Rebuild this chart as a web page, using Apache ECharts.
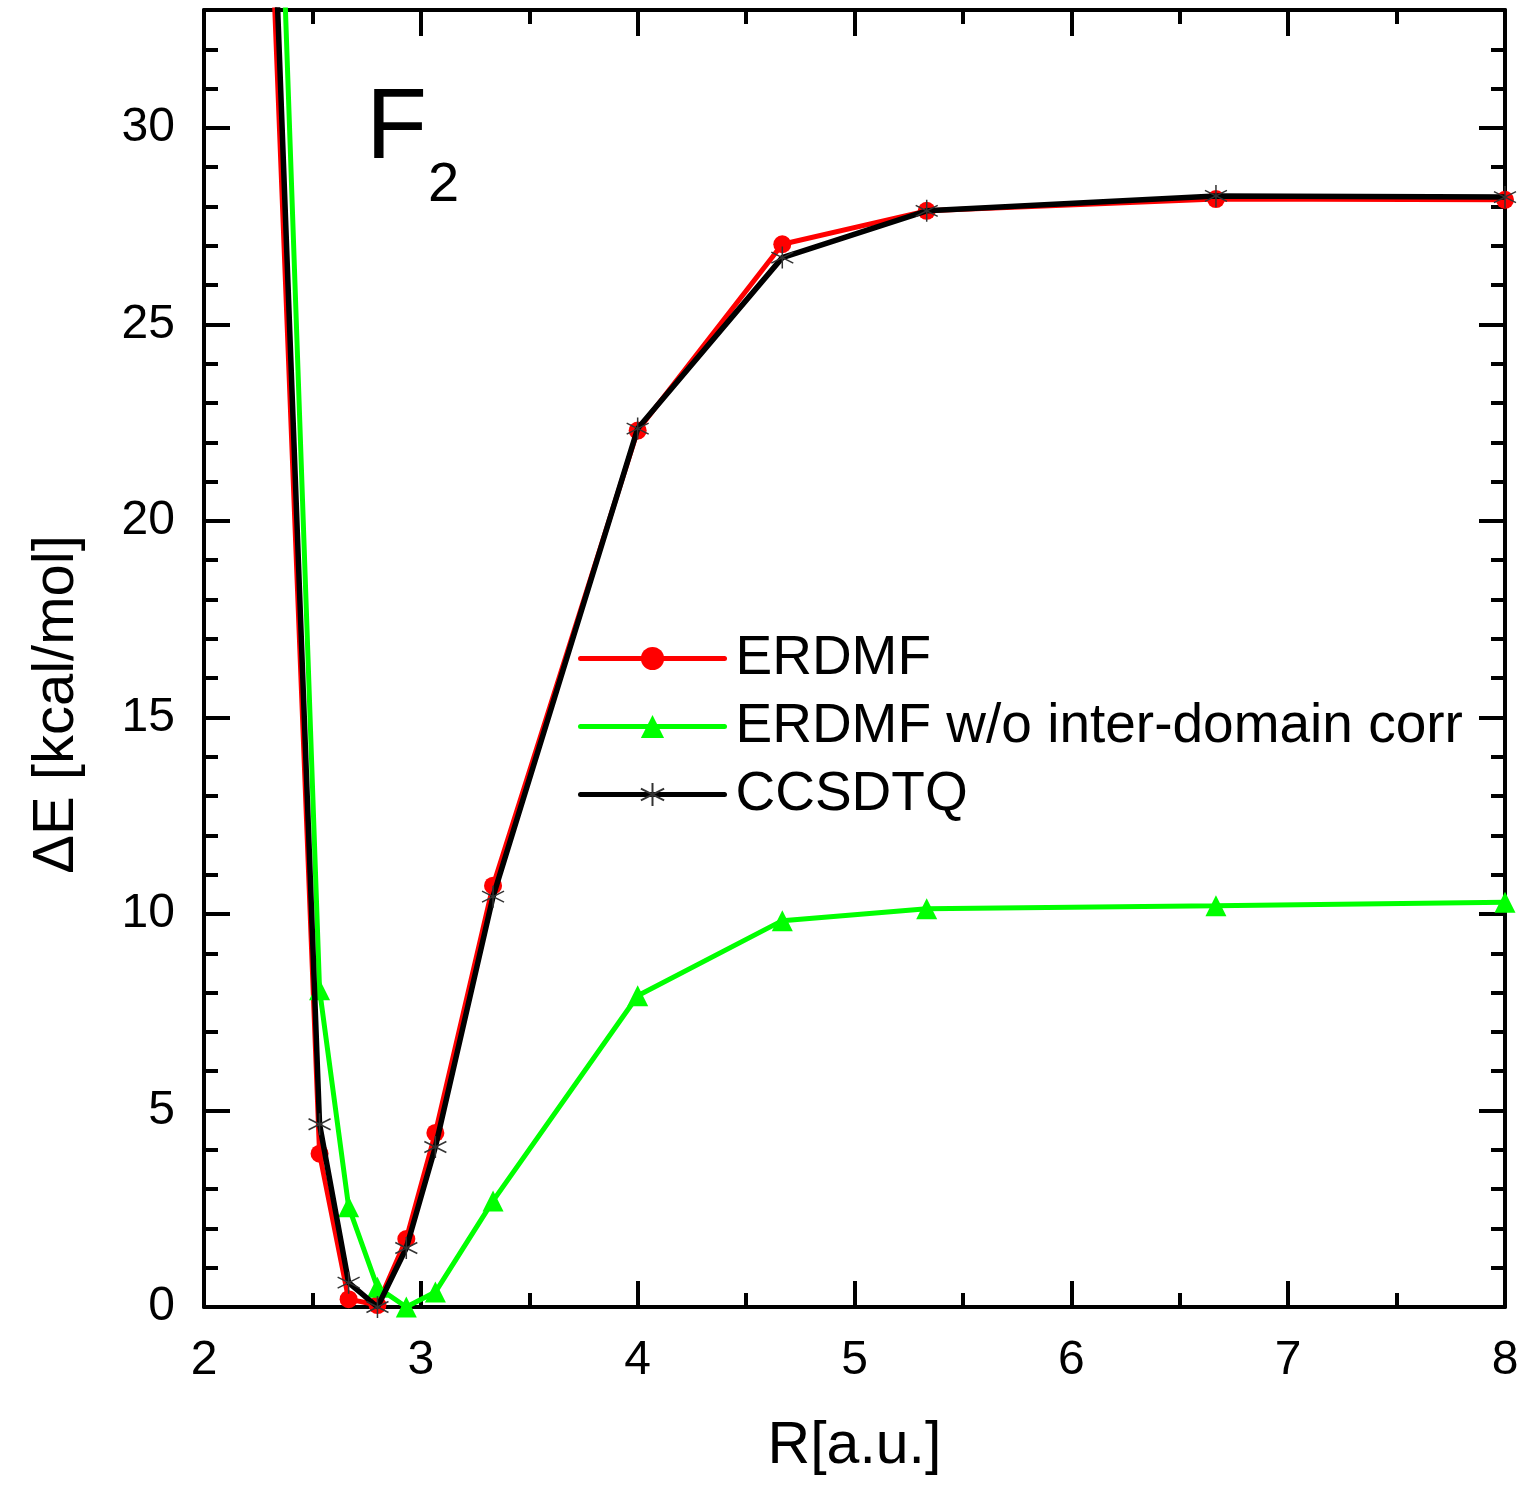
<!DOCTYPE html>
<html>
<head>
<meta charset="utf-8">
<script src="https://cdn.jsdelivr.net/npm/echarts@6/dist/echarts.min.js"></script>
<style>
  html, body { margin: 0; padding: 0; background: #fff; }
  #chart { width: 1526px; height: 1490px; }
</style>
</head>
<body>
<div id="chart"></div>
<script>
// Internuclear distance R in atomic units
const R = [2.267, 2.533, 2.667, 2.8, 2.933, 3.067, 3.333, 4.0, 4.667, 5.333, 6.667, 8.0];

// Relative energies in kcal/mol
const erdmf = [41.4, 3.9, 0.2, 0.05, 1.73, 4.43, 10.72, 22.3, 27.04, 27.89, 28.19, 28.17];
const erdmfNoInter = [50.2, 8.07, 2.55, 0.5, 0.0, 0.38, 2.7, 7.92, 9.83, 10.13, 10.21, 10.3];
const ccsdtq = [43.7, 4.65, 0.62, 0.0, 1.5, 4.07, 10.44, 22.35, 26.7, 27.89, 28.27, 28.24];

const seriesNames = ['ERDMF', 'ERDMF w/o inter-domain corr', 'CCSDTQ'];

const xTicks = [2, 3, 4, 5, 6, 7, 8];
const yTicks = [0, 5, 10, 15, 20, 25, 30];

const FONT = '"Liberation Sans", Arial, Helvetica, sans-serif';

const pairs = (xs, ys) => xs.map((x, i) => [x, ys[i]]);

// six-armed asterisk marker, drawn as strokes
const starPath = 'path://M0,-10L0,10M-8.66,-5L8.66,5M-8.66,5L8.66,-5';

const chart = echarts.init(document.getElementById('chart'), null, { renderer: 'canvas' });

const axisLine = { show: true, onZero: false, lineStyle: { color: '#000', width: 4 } };

function xAxisDef(position, withLabels) {
  return {
    type: 'value', position: position,
    min: xTicks[0], max: xTicks[xTicks.length - 1], interval: 1,
    axisLine: axisLine,
    axisTick: { show: true, inside: true, length: 26, lineStyle: { color: '#000', width: 4 } },
    minorTick: { show: true, splitNumber: 2, length: 14, lineStyle: { color: '#000', width: 4 } },
    axisLabel: withLabels ? { show: true, fontFamily: FONT, fontSize: 48, color: '#000', margin: 30 } : { show: false },
    splitLine: { show: false },
    name: withLabels ? 'R[a.u.]' : '',
    nameLocation: 'middle', nameGap: 110,
    nameTextStyle: { fontFamily: FONT, fontSize: 59, color: '#000' }
  };
}

function yMajor(position, withLabels) {
  return {
    type: 'value', position: position,
    min: 0, max: 33, interval: 5,
    axisLine: axisLine,
    axisTick: { show: true, inside: true, length: 26, lineStyle: { color: '#000', width: 4 } },
    axisLabel: withLabels ? { show: true, showMaxLabel: false, fontFamily: FONT, fontSize: 48, color: '#000', margin: 29 } : { show: false },
    splitLine: { show: false },
    name: withLabels ? 'ΔE [kcal/mol]' : '',
    nameLocation: 'middle', nameGap: 118, nameRotate: 90,
    nameTextStyle: { fontFamily: FONT, fontSize: 58, color: '#000', padding: [0, 92, 0, 0] }
  };
}

function yMinor(position) {
  return {
    type: 'value', position: position,
    min: 0, max: 33, interval: 1,
    axisLine: { show: false },
    axisTick: { show: true, inside: true, length: 14, lineStyle: { color: '#000', width: 4 } },
    axisLabel: { show: false },
    splitLine: { show: false }
  };
}

chart.setOption({
  animation: false,
  backgroundColor: '#fff',
  grid: { left: 204, right: 21, top: 10, bottom: 183, containLabel: false },
  xAxis: [xAxisDef('bottom', true), xAxisDef('top', false)],
  yAxis: [yMajor('left', true), yMinor('left'), yMajor('right', false), yMinor('right')],
  legend: {
    left: 578, top: 631, orient: 'vertical', padding: 0,
    itemWidth: 144, itemHeight: 29, itemGap: 13,
    lineStyle: { width: 5, cap: 'round' },
    textStyle: { fontFamily: FONT, fontSize: 55, color: '#000', padding: [0, 0, 0, 6] },
    data: seriesNames
  },
  graphic: [
    { type: 'text', left: 366, top: 80, style: { text: 'F', fontFamily: FONT, fontSize: 100, fill: '#000' } },
    { type: 'text', left: 428, top: 158, style: { text: '2', fontFamily: FONT, fontSize: 56, fill: '#000' } }
  ],
  series: [
    {
      name: seriesNames[0], type: 'line', xAxisIndex: 0, yAxisIndex: 0,
      data: pairs(R, erdmf), clip: true,
      symbol: 'circle', symbolSize: 18,
      lineStyle: { color: '#ff0000', width: 5 },
      itemStyle: { color: '#ff0000' }, z: 2
    },
    {
      name: seriesNames[1], type: 'line', xAxisIndex: 0, yAxisIndex: 0,
      data: pairs(R, erdmfNoInter), clip: true,
      symbol: 'triangle', symbolSize: 21,
      lineStyle: { color: '#00ff00', width: 5 },
      itemStyle: { color: '#00ff00' }, z: 3
    },
    {
      name: seriesNames[2], type: 'line', xAxisIndex: 0, yAxisIndex: 0,
      data: pairs(R, ccsdtq), clip: true,
      symbol: starPath, symbolSize: 22,
      lineStyle: { color: '#000000', width: 5.5 },
      itemStyle: { color: '#000000', borderColor: '#333', borderWidth: 1.5 }, z: 4
    }
  ]
});
</script>
</body>
</html>
